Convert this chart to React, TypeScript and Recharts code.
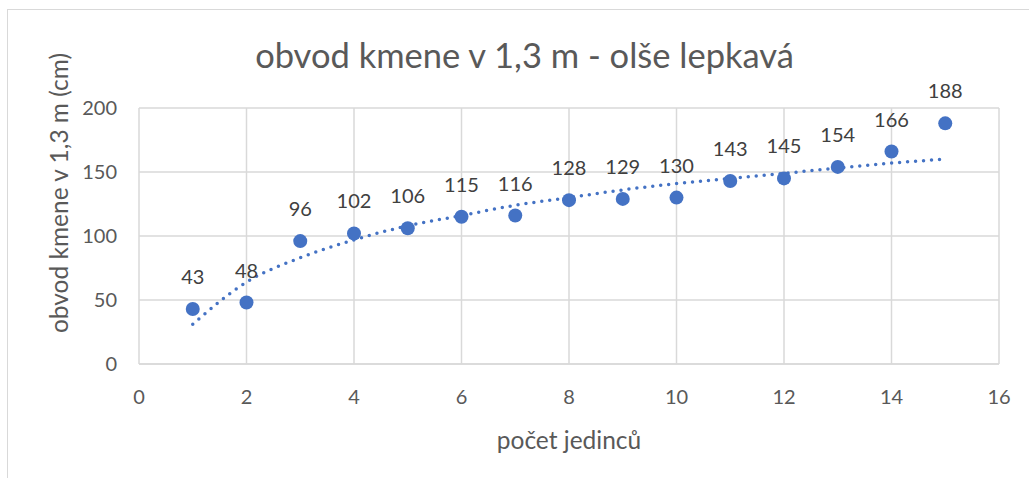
import React from 'react';
import { ComposedChart, Scatter, Line, XAxis, YAxis, CartesianGrid } from 'recharts';

const individuals = [1, 2, 3, 4, 5, 6, 7, 8, 9, 10, 11, 12, 13, 14, 15];
const girth = [43, 48, 96, 102, 106, 115, 116, 128, 129, 130, 143, 145, 154, 166, 188];
// trendline values
const trend = [31, 64, 83, 97, 108, 116, 124, 130, 136, 141, 145, 149, 153, 157, 160];
const xTicks = [0, 2, 4, 6, 8, 10, 12, 14, 16];
const yTicks = [0, 50, 100, 150, 200];

const pointData = individuals.map((x, i) => ({ x, y: girth[i] }));
const trendData = individuals.map((x, i) => ({ x, t: trend[i] }));

const FONT = 'Lato, "Open Sans", sans-serif';
const BLUE = '#4472C4';

const Dot = (props: any) => {
  const { cx, cy, payload } = props;
  return (
    <g>
      <circle cx={cx} cy={cy} r={7} fill={BLUE} />
      <text
        x={cx}
        y={cy - 33}
        textAnchor="middle"
        dominantBaseline="central"
        fontSize={20}
        fontFamily={FONT}
        fill="#404040"
      >
        {payload.y}
      </text>
    </g>
  );
};

export default function App() {
  return (
    <div style={{ position: 'absolute', left: 0, top: 0, width: 1029, height: 478, background: '#fff' }}>
      <div
        style={{
          position: 'absolute',
          left: 7,
          top: 9,
          right: 0,
          bottom: 0,
          borderLeft: '1px solid #d9d9d9',
          borderTop: '1px solid #d9d9d9',
        }}
      />
      <div
        style={{
          position: 'absolute',
          left: 0,
          width: 1029,
          top: 34,
          lineHeight: '42px',
          textAlign: 'center',
          fontFamily: FONT,
          fontSize: 34.5,
          color: '#595959',
          paddingLeft: 20,
          boxSizing: 'border-box',
        }}
      >
        obvod kmene v 1,3 m - olše lepkavá
      </div>
      <div style={{ position: 'absolute', left: 0, top: 0 }}>
        <ComposedChart
          width={1029}
          height={478}
          margin={{ top: 108, right: 30, bottom: 84, left: 99 }}
        >
          <CartesianGrid stroke="#d9d9d9" strokeWidth={1.5} horizontal vertical />
          <XAxis
            type="number"
            dataKey="x"
            domain={[0, 16]}
            ticks={xTicks}
            height={30}
            axisLine={{ stroke: '#d9d9d9', strokeWidth: 1.5 }}
            tickLine={false}
            tickMargin={20}
            tick={{ fill: '#595959', fontSize: 20, fontFamily: FONT }}
            label={{
              value: 'počet jedinců',
              position: 'insideBottom',
              offset: -55,
              fill: '#595959',
              fontSize: 24.5,
              fontFamily: FONT,
            }}
          />
          <YAxis
            type="number"
            dataKey="y"
            domain={[0, 200]}
            ticks={yTicks}
            width={40}
            axisLine={false}
            tickLine={false}
            tickMargin={16}
            tick={{ fill: '#595959', fontSize: 20, fontFamily: FONT }}
            label={{
              value: 'obvod kmene v 1,3 m (cm)',
              angle: -90,
              position: 'center',
              dx: -60,
              dy: -43,
              fill: '#595959',
              fontSize: 24.5,
              fontFamily: FONT,
            }}
          />
          <Line
            data={trendData}
            dataKey="t"
            type="monotone"
            stroke={BLUE}
            strokeWidth={3.5}
            strokeDasharray="0 8"
            strokeLinecap="round"
            dot={false}
            activeDot={false}
            isAnimationActive={false}
          />
          <Scatter data={pointData} dataKey="y" shape={<Dot />} isAnimationActive={false} />
        </ComposedChart>
      </div>
    </div>
  );
}
